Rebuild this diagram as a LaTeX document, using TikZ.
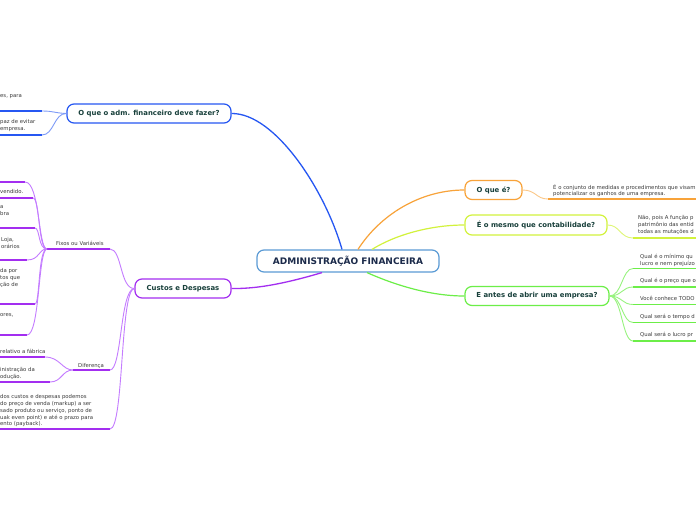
\documentclass[tikz,border=0pt]{standalone}
\usepackage{fontspec}
\setmainfont{DejaVu Sans}
\definecolor{tealdark}{HTML}{173F3A}
\definecolor{navy}{HTML}{1B2A4A}
\definecolor{txt}{HTML}{3A3A3A}
\definecolor{cblue}{HTML}{2657F2}
\definecolor{ccenter}{HTML}{5B9BD5}
\definecolor{corange}{HTML}{F8A33A}
\definecolor{clime}{HTML}{D2F23C}
\definecolor{cgreen}{HTML}{6CEE48}
\definecolor{cpurple}{HTML}{A32EF0}
\definecolor{cpurplel}{HTML}{C47CFF}
\begin{document}
\begin{tikzpicture}[x=1pt,y=-1pt,
  topic/.style={draw, rounded corners=7pt, fill=white, line width=1.2pt,
    font=\fontsize{6.9}{8}\selectfont\bfseries, text=tealdark,
    minimum height=19pt, inner sep=0pt},
  small/.style={font=\fontsize{5.35}{6.8}\selectfont, text=txt, align=left,
    inner sep=0pt, anchor=north west},
  thick line/.style={line width=1.8pt},
  thin line/.style={line width=0.9pt}]
\useasboundingbox (0,0) rectangle (696,520);
\clip (0,0) rectangle (696,520);
\fill[white] (0,0) rectangle (696,520);

% ---------- topic nodes ----------
\node[topic, draw=ccenter, text=navy, minimum width=182pt, minimum height=22pt,
  font=\fontsize{9}{10}\selectfont\bfseries] (C) at (348,261) {ADMINISTRAÇÃO FINANCEIRA};
\node[topic, draw=cblue, minimum width=164pt] (A) at (149,113.5) {O que o adm. financeiro deve fazer?};
\node[topic, draw=cpurple, minimum width=96pt] (B) at (183,288.5) {Custos e Despesas};
\node[topic, draw=corange, minimum width=57pt] (O) at (493.5,190) {O que é?};
\node[topic, draw=clime, minimum width=142pt, minimum height=20pt] (M) at (536,225) {É o mesmo que contabilidade?};
\node[topic, draw=cgreen, minimum width=144pt] (E) at (537,296) {E antes de abrir uma empresa?};

% ---------- main connectors ----------
\draw[cblue, line width=1.3pt] ([xshift=-6pt]C.north) .. controls (325,190) and (275,113) .. (A.east);
\draw[corange, line width=1.2pt] ([xshift=10pt]C.north) .. controls (380,215) and (420,190) .. (O.west);
\draw[clime, line width=1.2pt] ([xshift=24pt]C.north) .. controls (395,235) and (430,225) .. (M.west);
\draw[cgreen, line width=1.2pt] ([xshift=19pt]C.south) .. controls (395,285) and (430,296) .. (E.west);
\draw[cpurple, line width=1.3pt] ([xshift=-26pt]C.south) .. controls (290,282) and (260,289) .. (B.east);

% ---------- blue branch (left, top) ----------
\coordinate (a1l) at (0,111);  \coordinate (a1r) at (42,111);
\coordinate (a2l) at (0,135);  \coordinate (a2r) at (42,135);
\draw[cblue, thick line] (a1l) -- (a1r);
\draw[cblue, thick line] (a2l) -- (a2r);
\draw[cblue!60, thin line] (A.west) .. controls (54,113) and (54,111) .. (a1r);
\draw[cblue!60, thin line] (A.west) .. controls (54,113) and (54,135) .. (a2r);
\node[small] (ta1) at (0,94.5) {es, para};
\node[small] (ta2) at (0,119.5) {paz de evitar\\empresa.};

% ---------- orange branch ----------
\coordinate (o1l) at (548,199); \coordinate (o1r) at (696,199);
\draw[corange, thick line] (o1l) -- (o1r);
\draw[corange!60, thin line] (O.east) .. controls (536,190) and (536,199) .. (o1l);
\node[small] (to1) at (553,184) {É o conjunto de medidas e procedimentos que visam\\potencializar os ganhos de uma empresa.};

% ---------- lime branch ----------
\coordinate (m1l) at (633,238); \coordinate (m1r) at (696,238);
\draw[clime, thick line] (m1l) -- (m1r);
\draw[clime!70, thin line] (M.east) .. controls (620,225) and (620,238) .. (m1l);
\node[small] (tm1) at (638,215.5) {Não, pois A função p\\patrimônio das entid\\todas as mutações d};

% ---------- green branch ----------
\foreach \n/\y in {1/268.5, 2/287, 3/304.5, 4/322.5, 5/341}{
  \coordinate (e\n l) at (633,\y);
  \coordinate (e\n r) at (696,\y);
  \draw[cgreen, thick line] (e\n l) -- (e\n r);
  \draw[cgreen!70, thin line] (E.east) .. controls (622,296) and (622,\y) .. (e\n l);
}
\node[small] (te1) at (640,254.5) {Qual é o mínimo qu\\lucro e nem prejuízo};
\node[small] (te2) at (640,278.5) {Qual é o preço que o};
\node[small] (te3) at (640,296) {Você conhece TODO};
\node[small] (te4) at (640,314) {Qual será o tempo d};
\node[small] (te5) at (640,332) {Qual será o lucro pr};

% ---------- purple branch ----------
% Fixos ou Variaveis
\coordinate (fl) at (47,249); \coordinate (fr) at (110,249);
\draw[cpurple, thick line] (fl) -- (fr);
\draw[cpurplel, thin line] (B.west) .. controls (120,289) and (122,249) .. (fr);
\node[small, anchor=base west] (tf) at (56,245.5) {Fixos ou Variáveis};
\foreach \n/\y/\x in {1/182/25, 2/198/33, 3/228/35, 4/260/27, 5/304/35, 6/335/27}{
  \coordinate (f\n l) at (0,\y);
  \coordinate (f\n r) at (\x,\y);
  \draw[cpurple, thick line] (f\n l) -- (f\n r);
  \draw[cpurplel, thin line] (fl) .. controls (38,249) and (40,\y) .. (f\n r);
}
\node[small] (tf2) at (0,189.5) {vendido.};
\node[small] (tf3) at (0,205.5) {a\\bra};
\node[small] (tf4) at (1,237) {Loja,\\orários};
\node[small] (tf5) at (0,268.5) {da por\\tos que\\ção de};
\node[small] (tf6) at (0,313.5) {ores,};

% Diferenca
\coordinate (dl) at (73,370); \coordinate (dr) at (110,370);
\draw[cpurple, thick line] (dl) -- (dr);
\draw[cpurplel, thin line] (B.west) .. controls (120,289) and (122,370) .. (dr);
\node[small, anchor=base west] (td) at (78,367) {Diferença};
\coordinate (d1l) at (0,357); \coordinate (d1r) at (45,357);
\coordinate (d2l) at (0,382); \coordinate (d2r) at (50,382);
\draw[cpurple, thick line] (d1l) -- (d1r);
\draw[cpurple, thick line] (d2l) -- (d2r);
\draw[cpurplel, thin line] (dl) .. controls (62,370) and (60,357) .. (d1r);
\draw[cpurplel, thin line] (dl) .. controls (62,370) and (62,382) .. (d2r);
\node[small] (td1) at (0,349.5) {relativo a fábrica};
\node[small] (td2) at (0,367) {inistração da\\odução.};

% long text
\coordinate (ll) at (0,429); \coordinate (lr) at (110,429);
\draw[cpurple, thick line] (ll) -- (lr);
\draw[cpurplel, thin line] (B.west) .. controls (120,289) and (124,429) .. (lr);
\node[small] (tl) at (0,394.5) {dos custos e despesas podemos\\do preço de venda (markup) a ser\\sado produto ou serviço, ponto de\\uak even point) e até o prazo para\\ento (payback).};
\end{tikzpicture}
\end{document}
